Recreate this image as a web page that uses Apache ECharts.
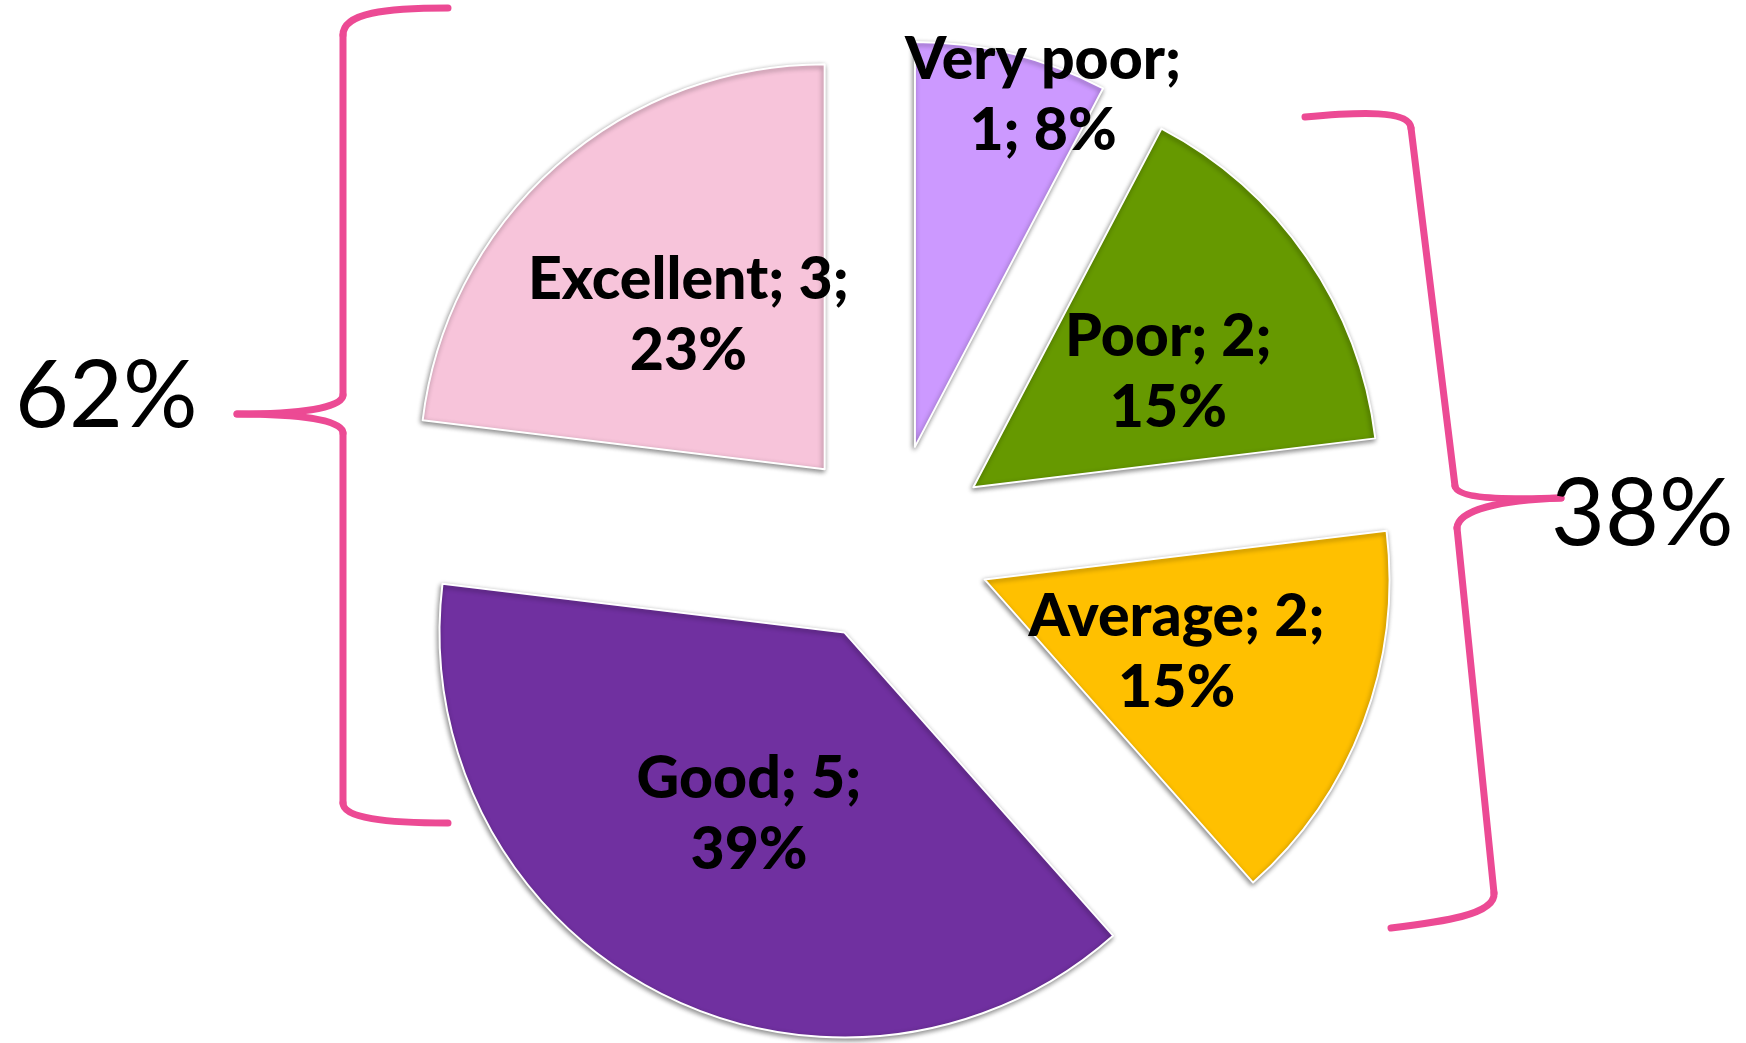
<!DOCTYPE html>
<html lang="en">

<head>
	<meta charset="UTF-8">
	<title>Rating pie</title>
	<script src="https://cdn.jsdelivr.net/npm/echarts@6/dist/echarts.min.js"></script>
	<style>
		html,
		body {
			margin: 0;
			padding: 0;
			background-color: #fff;
		}

		#main {
			width: 1746px;
			height: 1043px;
		}
	</style>
</head>

<body>

	<div id="main"></div>

	<script>
		// values
		const categories = ['Very poor', 'Poor', 'Average', 'Good', 'Excellent'];
		const counts = [1, 2, 2, 5, 3];
		const groupLabels = ['62%', '38%'];

		const sliceColors = ['#cc99ff', '#669900', '#ffc000', '#7030a0', '#f7c4da'];
		const braceColor = '#ec4a94';

		// labels that were dragged away from their default spot (by data index)
		const labelShift = {
			0: [79, -152],
			1: [26, 2]
		};

		const myChart = echarts.init(document.getElementById('main'));

		const pieData = categories.map((name, i) => {
			const item = {
				name: name,
				value: counts[i],
				selected: true,
				itemStyle: { color: sliceColors[i] }
			};
			// the narrow slice wraps its label after the name
			if (i === 0) {
				item.label = { formatter: '{b};\n{c}; {d}%' };
			}
			return item;
		});

		// brace pieces: [x1, y1, cp1x, cp1y, cp2x, cp2y, x2, y2] for curves, [x1, y1, x2, y2] for straight bits
		function braceParts(parts) {
			return parts.map(p => {
				const style = { fill: null, stroke: braceColor, lineWidth: 7, lineCap: 'round' };
				if (p.length === 4) {
					return { type: 'line', silent: true, shape: { x1: p[0], y1: p[1], x2: p[2], y2: p[3] }, style: style };
				}
				return {
					type: 'bezierCurve',
					silent: true,
					shape: { x1: p[0], y1: p[1], cpx1: p[2], cpy1: p[3], cpx2: p[4], cpy2: p[5], x2: p[6], y2: p[7] },
					style: style
				};
			});
		}

		const leftBrace = braceParts([
			[448, 8, 385, 8, 343, 13, 343, 35],
			[343, 35, 343, 395],
			[343, 395, 343, 408, 300, 414, 237, 414],
			[237, 414, 300, 414, 343, 420, 343, 433],
			[343, 433, 343, 803],
			[343, 803, 343, 818, 385, 823, 448, 823]
		]);

		const rightBrace = braceParts([
			[1305, 117, 1360, 112, 1410, 110, 1411, 128],
			[1411, 128, 1455, 486],
			[1455, 486, 1457, 498, 1500, 500, 1561, 498],
			[1561, 498, 1500, 500, 1458, 510, 1457, 528],
			[1457, 528, 1494, 893],
			[1494, 893, 1496, 915, 1440, 922, 1391, 928]
		]);

		const option = {
			animation: false,
			backgroundColor: '#fff',
			series: [
				{
					type: 'pie',
					center: [891, 544],
					radius: 405,
					startAngle: 90,
					clockwise: true,
					selectedMode: 'multiple',
					selectedOffset: 100,
					percentPrecision: 0,
					avoidLabelOverlap: false,
					itemStyle: {
						borderColor: '#fff',
						borderWidth: 2,
						shadowColor: 'rgba(0,0,0,0.45)',
						shadowBlur: 5,
						shadowOffsetX: -1,
						shadowOffsetY: 2
					},
					label: {
						show: true,
						position: 'inside',
						formatter: '{b}; {c};\n{d}%',
						color: '#000',
						fontFamily: 'Lato',
						fontWeight: 900,
						fontSize: 59,
						lineHeight: 71,
						align: 'center'
					},
					labelLayout: function (params) {
						const s = labelShift[params.dataIndex];
						return s ? { dx: s[0], dy: s[1] } : {};
					},
					labelLine: { show: false },
					emphasis: { disabled: true },
					select: {
						itemStyle: {
							borderColor: '#fff',
							borderWidth: 2
						}
					},
					data: pieData
				}
			],
			graphic: leftBrace.concat(rightBrace, [
				{
					type: 'text',
					left: 15,
					top: 350,
					silent: true,
					style: {
						text: groupLabels[0],
						font: '93px Lato',
						fill: '#000'
					}
				},
				{
					type: 'text',
					left: 1551,
					top: 468,
					silent: true,
					style: {
						text: groupLabels[1],
						font: '93px Lato',
						fill: '#000'
					}
				}
			])
		};

		myChart.setOption(option);
	</script>
</body>

</html>
